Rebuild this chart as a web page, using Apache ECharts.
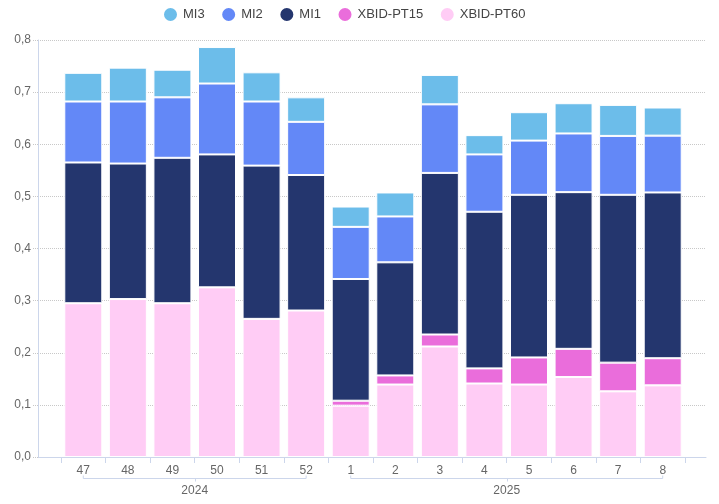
<!DOCTYPE html>
<html>
<head>
<meta charset="utf-8">
<script src="https://cdn.jsdelivr.net/npm/echarts@6/dist/echarts.min.js"></script>
<style>
html,body{margin:0;padding:0;background:#fff;}
#chart{width:719px;height:504px;}
</style>
</head>
<body>
<div id="chart"></div>
<script>
const weeks = ['47','48','49','50','51','52','1','2','3','4','5','6','7','8'];
const yearLabels = ['2024','2025'];
const yearFirst = [0, 6];
const yearLast = [5, 13];

const pt60 = [0.295,0.303,0.295,0.3255,0.265,0.281,0.0985,0.139,0.212,0.141,0.139,0.1535,0.126,0.1375];
const pt15 = [0,0,0,0,0,0,0.0095,0.0175,0.023,0.029,0.052,0.054,0.055,0.052];
const mi1  = [0.270,0.260,0.279,0.255,0.294,0.260,0.2335,0.217,0.310,0.3005,0.312,0.3006,0.322,0.318];
const mi2  = [0.117,0.119,0.116,0.136,0.123,0.102,0.100,0.088,0.1315,0.110,0.104,0.1126,0.113,0.109];
const mi3  = [0.055,0.065,0.053,0.070,0.056,0.047,0.039,0.046,0.0565,0.037,0.0545,0.058,0.0595,0.054];

const yTicks = [0,0.1,0.2,0.3,0.4,0.5,0.6,0.7,0.8];

const colors = {
  'MI3':'#6cbdea',
  'MI2':'#6388f7',
  'MI1':'#24366e',
  'XBID-PT15':'#ea6ddb',
  'XBID-PT60':'#ffccf5'
};
const FONT = '"Liberation Sans", Arial, sans-serif';

const chart = echarts.init(document.getElementById('chart'), null, {renderer:'canvas'});

function barSeries(name, data){
  return {
    name, type:'bar', stack:'total', data,
    xAxisIndex:1, yAxisIndex:1,
    barWidth:38,
    itemStyle:{color:colors[name], borderColor:'#ffffff', borderWidth:1},
    emphasis:{disabled:true}
  };
}

const option = {
  animation:false,
  textStyle:{fontFamily:FONT},
  legend:{
    top:1, left:157,
    data:['MI3','MI2','MI1','XBID-PT15','XBID-PT60'],
    icon:'circle', itemWidth:15, itemHeight:15, itemGap:15.5,
    textStyle:{color:'#444', fontSize:13, fontFamily:FONT}
  },
  grid:[
    {left:38, right:13, top:40, bottom:47},
    {left:61, right:34, top:40, bottom:47}
  ],
  xAxis:[
    {type:'category', gridIndex:0, data:weeks,
     axisLine:{show:true, lineStyle:{color:'#ccd6eb', width:1}},
     axisTick:{show:false}, axisLabel:{show:false}, splitLine:{show:false}},
    {type:'category', gridIndex:1, data:weeks,
     axisLine:{show:false},
     axisTick:{show:true, length:6, alignWithLabel:false, lineStyle:{color:'#ccd6eb'}},
     axisLabel:{color:'#666', fontSize:12, margin:8, fontFamily:FONT},
     splitLine:{show:false}}
  ],
  yAxis:[
    {type:'value', gridIndex:0, min:yTicks[0], max:yTicks[yTicks.length-1], interval:0.1,
     axisLine:{show:true, lineStyle:{color:'#ccd6eb'}},
     axisTick:{show:true, length:5, lineStyle:{color:'#c8c8c8', type:'dotted'}},
     axisLabel:{color:'#666', fontSize:12, margin:7, fontFamily:FONT,
       formatter:v=>v.toFixed(1).replace('.',',')},
     splitLine:{show:true, lineStyle:{color:'#c8c8c8', type:'dotted', width:1}}},
    {type:'value', gridIndex:1, min:yTicks[0], max:yTicks[yTicks.length-1], interval:0.1, show:false,
     splitLine:{show:false}}
  ],
  series:[
    barSeries('XBID-PT60', pt60),
    barSeries('XBID-PT15', pt15),
    barSeries('MI1', mi1),
    barSeries('MI2', mi2),
    barSeries('MI3', mi3)
  ]
};
chart.setOption(option);

// year group brackets computed from the axis scale
const axisY = chart.convertToPixel({yAxisIndex:1}, 0);
const graphics = [];
for (let g=0; g<yearLabels.length; g++){
  const x1 = chart.convertToPixel({xAxisIndex:1}, yearFirst[g]);
  const x2 = chart.convertToPixel({xAxisIndex:1}, yearLast[g]);
  const xm = (x1+x2)/2;
  const by = Math.round(axisY + 21) + 0.5;
  graphics.push({type:'polyline', silent:true,
    shape:{points:[[x1,by-3],[x1,by],[x2,by],[x2,by-3]]},
    style:{stroke:'#ccd6eb', fill:null, lineWidth:1}});
  graphics.push({type:'line', silent:true,
    shape:{x1:Math.round(xm)+0.5, y1:by, x2:Math.round(xm)+0.5, y2:by+3},
    style:{stroke:'#ccd6eb', lineWidth:1}});
  graphics.push({type:'text', silent:true,
    style:{text:yearLabels[g], x:xm, y:axisY+34, textAlign:'center', textVerticalAlign:'middle',
      fill:'#666', font:'12px '+FONT}});
}
chart.setOption({graphic:graphics});
</script>
</body>
</html>
